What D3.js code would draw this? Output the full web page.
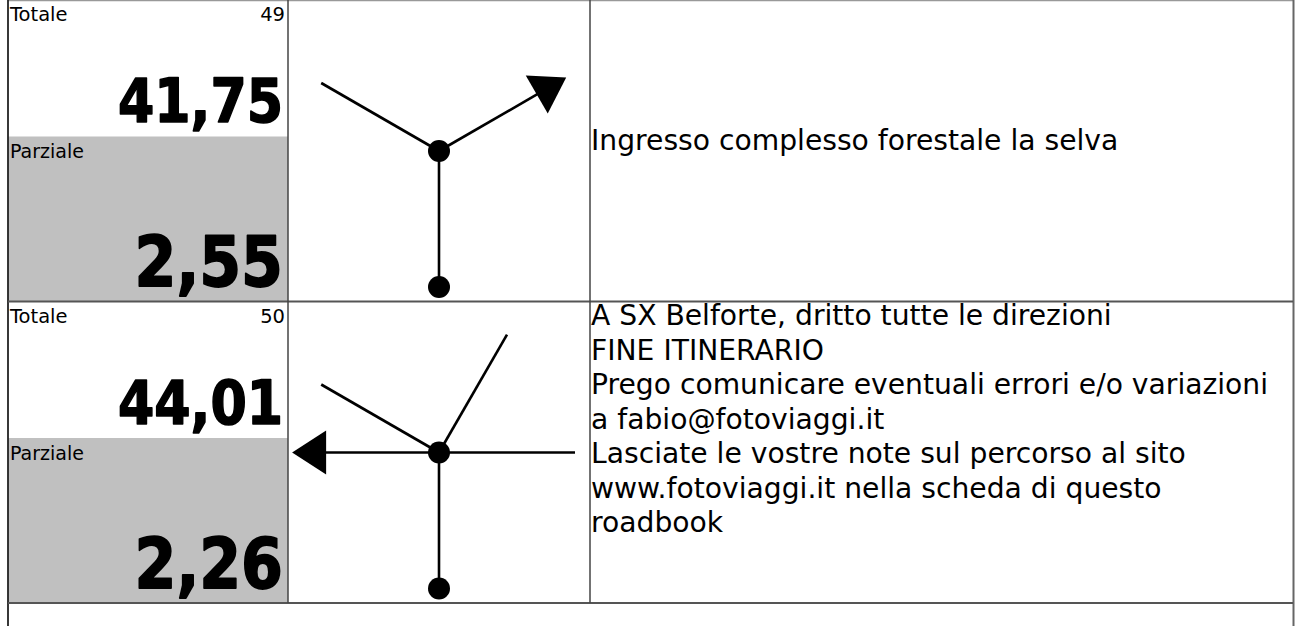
<!DOCTYPE html>
<html><head><meta charset="utf-8">
<script src="https://cdn.jsdelivr.net/npm/d3@7"></script>
<style>body{margin:0;background:#fff;overflow:hidden} svg{display:block}</style>
</head><body><svg id="c" width="1300" height="626"></svg>
<script>
// ---- data ----
const stepNumbers = [49, 50];
const totals = ["41,75", "44,01"];
const partials = ["2,55", "2,26"];
const descriptions = [
  ["Ingresso complesso forestale la selva"],
  ["A SX Belforte, dritto tutte le direzioni",
   "FINE ITINERARIO",
   "Prego comunicare eventuali errori e/o variazioni",
   "a fabio@fotoviaggi.it",
   "Lasciate le vostre note sul percorso al sito",
   "www.fotoviaggi.it nella scheda di questo",
   "roadbook"]
];
const sideRoads = [[300], [300, 30, 90]];   // bearings (deg, 0 = up)
const exitBearings = [60, 270];
const entryBearing = 180;

// ---- layout ----
const svg = d3.select("#c");
const W = 1300, H = 626;
const xL = 8, xR = 1293, c1 = 288, c2 = 590;
const rowY = d3.scaleLinear().domain([0, 1]).range([0, 301.5]);
const rowH = 301.5;
const grey = "#c0c0c0";
const regFont = "'DejaVu Sans', Verdana, sans-serif";

// radial scale for the tulip diagram
const rad = d3.scaleLinear().domain([0, 1]).range([0, 136]);
function pt(cx, cy, bearing, r) {
  const a = bearing * Math.PI / 180;
  return [cx + rad(r) * Math.sin(a), cy - rad(r) * Math.cos(a)];
}

stepNumbers.forEach((num, i) => {
  const y0 = rowY(i);
  const g = svg.append("g").attr("transform", `translate(0,${y0})`);

  // grey partial box
  g.append("rect").attr("x", xL).attr("y", 136.5).attr("width", c1 - xL).attr("height", rowH - 136.5)
    .attr("fill", grey);

  g.append("text").attr("x", 10).attr("y", 21).attr("font-family", regFont).attr("font-size", 19.5)
    .attr("fill", "#000").text("Totale");
  g.append("text").attr("x", 285).attr("y", 21).attr("text-anchor", "end").attr("font-family", regFont)
    .attr("font-size", 19.5).attr("fill", "#000").text(num);
  g.append("text").attr("x", 10).attr("y", 158).attr("font-family", regFont).attr("font-size", 19)
    .attr("fill", "#000").text("Parziale");

  g.append("text").attr("transform", "translate(283,122) scale(0.87,1)").attr("text-anchor", "end")
    .attr("font-family", regFont).attr("font-weight", "bold").attr("font-size", 60).attr("fill", "#000")
    .attr("stroke", "#000").attr("stroke-width", 1.6).attr("stroke-linejoin", "round")
    .text(totals[i]);
  g.append("text").attr("transform", "translate(283,286) scale(0.86,1)").attr("text-anchor", "end")
    .attr("font-family", regFont).attr("font-weight", "bold").attr("font-size", 70).attr("fill", "#000")
    .attr("stroke", "#000").attr("stroke-width", 1.8).attr("stroke-linejoin", "round")
    .text(partials[i]);

  // tulip diagram
  const cx = (c1 + c2) / 2, cy = 151;
  const d = g.append("g");
  const line = (a, b) => d.append("line").attr("x1", a[0]).attr("y1", a[1]).attr("x2", b[0]).attr("y2", b[1])
    .attr("stroke", "#000").attr("stroke-width", 2.6);
  const entryEnd = pt(cx, cy, entryBearing, 1);
  line([cx, cy], entryEnd);
  sideRoads[i].forEach(b => line([cx, cy], pt(cx, cy, b, 1)));
  const eb = exitBearings[i];
  line([cx, cy], pt(cx, cy, eb, 0.85));
  const tip = pt(cx, cy, eb, 1.08);
  const baseC = pt(cx, cy, eb, 0.83);
  const a = eb * Math.PI / 180;
  const px = Math.cos(a) * 22, py = Math.sin(a) * 22;
  d.append("path").attr("d", `M${tip[0]},${tip[1]}L${baseC[0] + px},${baseC[1] + py}L${baseC[0] - px},${baseC[1] - py}Z`)
    .attr("fill", "#000");
  d.append("circle").attr("cx", cx).attr("cy", cy).attr("r", 11).attr("fill", "#000");
  d.append("circle").attr("cx", entryEnd[0]).attr("cy", entryEnd[1]).attr("r", 11).attr("fill", "#000");

  // description
  const lines = descriptions[i];
  const lh = 34.5;
  const firstBase = lines.length === 1 ? 150 : 23.5;
  g.selectAll(null).data(lines).join("text")
    .attr("x", 591).attr("y", (t, k) => firstBase + k * lh)
    .attr("font-family", regFont).attr("font-size", 28.2).attr("fill", "#000").text(t => t);
});

// ---- grid lines ----
const gl = svg.append("g").attr("fill", "none");
gl.append("line").attr("x1", xL).attr("x2", xR).attr("y1", 0.5).attr("y2", 0.5).attr("stroke", "#999").attr("stroke-width", 1.5);
gl.append("line").attr("x1", xL).attr("x2", xL).attr("y1", 0).attr("y2", H).attr("stroke", "#222").attr("stroke-width", 1.8);
gl.append("line").attr("x1", xR + 0.5).attr("x2", xR + 0.5).attr("y1", 0).attr("y2", H).attr("stroke", "#666").attr("stroke-width", 2);
[301.5, 603].forEach(y => {
  gl.append("line").attr("x1", xL).attr("x2", xR).attr("y1", y).attr("y2", y).attr("stroke", "#555").attr("stroke-width", 2);
});
[c1, c2].forEach(x => {
  gl.append("line").attr("x1", x).attr("x2", x).attr("y1", 0).attr("y2", 603).attr("stroke", "#444").attr("stroke-width", 1.5);
});
</script></body></html>
